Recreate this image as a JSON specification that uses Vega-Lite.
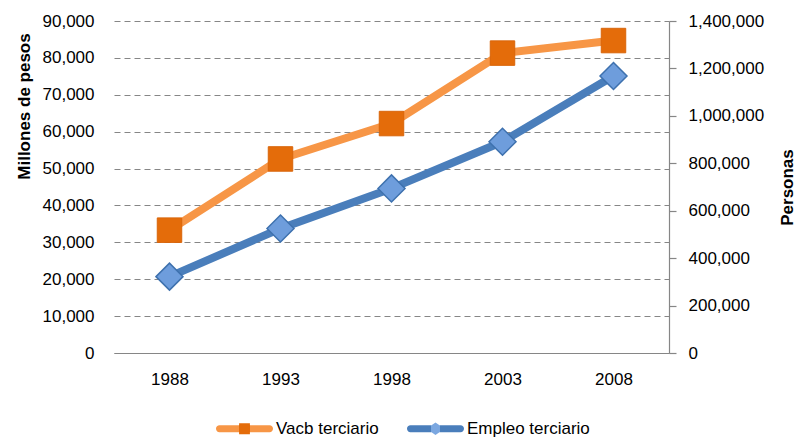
{
  "$schema": "https://vega.github.io/schema/vega-lite/v6.json",
  "width": 555,
  "height": 332,
  "autosize": "none",
  "padding": {"left": 114, "top": 21, "right": 129, "bottom": 86},
  "background": "white",
  "config": {
    "view": {"stroke": null},
    "font": "Liberation Sans, Arial",
    "axis": {"labelFont": "Liberation Sans, Arial", "titleFont": "Liberation Sans, Arial", "labelColor": "#000000", "titleColor": "#000000", "labelFontSize": 17},
    "legend": {"labelFont": "Liberation Sans, Arial", "labelFontSize": 17, "labelColor": "#000000"}
  },
  "data": {
    "values": [
      {"year": "1988", "series": "Vacb terciario", "value": 33300},
      {"year": "1993", "series": "Vacb terciario", "value": 52600},
      {"year": "1998", "series": "Vacb terciario", "value": 62200},
      {"year": "2003", "series": "Vacb terciario", "value": 81300},
      {"year": "2008", "series": "Vacb terciario", "value": 84700},
      {"year": "1988", "series": "Empleo terciario", "value": 322000},
      {"year": "1993", "series": "Empleo terciario", "value": 525000},
      {"year": "1998", "series": "Empleo terciario", "value": 694000},
      {"year": "2003", "series": "Empleo terciario", "value": 891000},
      {"year": "2008", "series": "Empleo terciario", "value": 1168000}
    ]
  },
  "encoding": {
    "x": {
      "field": "year", "type": "ordinal",
      "scale": {"type": "point", "padding": 0.5},
      "axis": {"title": null, "labelAngle": 0, "ticks": false, "tickSize": 0, "labelPadding": 18, "domainColor": "#868686", "domainWidth": 1.2, "grid": false}
    }
  },
  "layer": [
    {
      "transform": [{"filter": "datum.series === 'Vacb terciario'"}],
      "encoding": {
        "y": {
          "field": "value", "type": "quantitative",
          "scale": {"domain": [0, 90000], "nice": false, "zero": true},
          "axis": {
            "title": "Millones de pesos", "titleFontSize": 17, "titleFontWeight": "bold",
            "titleX": -90, "titleY": 85, "titleAngle": -90, "titleAlign": "center", "titleBaseline": "middle",
            "values": [0, 10000, 20000, 30000, 40000, 50000, 60000, 70000, 80000, 90000],
            "format": ",d", "domain": false, "ticks": false, "tickSize": 0, "labelPadding": 20,
            "grid": true, "gridColor": "#868686", "gridDash": [6, 4], "gridWidth": 1.2
          }
        }
      },
      "layer": [
        {
          "mark": {"type": "line", "strokeWidth": 8, "strokeCap": "round", "strokeJoin": "round"},
          "encoding": {
            "color": {
              "field": "series", "type": "nominal",
              "scale": {"domain": ["Vacb terciario", "Empleo terciario"], "range": ["#F79646", "#4A7EBB"]},
              "legend": {
                "title": null, "orient": "none", "direction": "horizontal", "columns": 2,
                "legendX": 102, "legendY": 379,
                "symbolType": "M-1,-0.12H-0.19V-0.19H0.19V-0.12H1V0.12H0.19V0.19H-0.19V0.12H-1Z",
                "symbolSize": 3249, "labelOffset": 3, "columnPadding": 28,
                "encode": {
                  "symbols": {
                    "update": {
                      "shape": {"signal": "datum.value === 'Vacb terciario' ? 'M-0.88,-0.12H-0.19V-0.19H0.19V-0.12H0.88A0.12,0.12 0 0 1 0.88,0.12H0.19V0.19H-0.19V0.12H-0.88A0.12,0.12 0 0 1 -0.88,-0.12Z' : 'M-0.88,-0.12H-0.14L0,-0.22L0.14,-0.12H0.88A0.12,0.12 0 0 1 0.88,0.12H0.14L0,0.22L-0.14,0.12H-0.88A0.12,0.12 0 0 1 -0.88,-0.12Z'"},
                      "fill": {"signal": "datum.value === 'Vacb terciario' ? {gradient: 'linear', stops: [{offset: 0, color: '#F79646'}, {offset: 0.404, color: '#F79646'}, {offset: 0.405, color: '#E46C0A'}, {offset: 0.595, color: '#E46C0A'}, {offset: 0.596, color: '#F79646'}, {offset: 1, color: '#F79646'}]} : {gradient: 'linear', stops: [{offset: 0, color: '#4A7EBB'}, {offset: 0.42, color: '#4A7EBB'}, {offset: 0.43, color: '#7BA7E0'}, {offset: 0.57, color: '#7BA7E0'}, {offset: 0.58, color: '#4A7EBB'}, {offset: 1, color: '#4A7EBB'}]}"},
                      "stroke": {"value": "transparent"},
                      "strokeWidth": {"value": 0},
                      "opacity": {"value": 1}
                    }
                  }
                }
              }
            }
          }
        },
        {
          "mark": {"type": "point", "shape": "square", "size": 600, "filled": true, "fill": "#E46C0A", "stroke": "#D9650A", "strokeWidth": 1, "opacity": 1}
        }
      ]
    },
    {
      "transform": [{"filter": "datum.series === 'Empleo terciario'"}],
      "encoding": {
        "y": {
          "field": "value", "type": "quantitative",
          "scale": {"domain": [0, 1400000], "nice": false, "zero": true},
          "axis": {
            "orient": "right", "title": "Personas", "titleFontSize": 17, "titleFontWeight": "bold",
            "titleX": 118, "titleY": 166, "titleAngle": -90, "titleAlign": "center", "titleBaseline": "middle",
            "values": [0, 200000, 400000, 600000, 800000, 1000000, 1200000, 1400000],
            "format": ",d", "domainColor": "#868686", "domainWidth": 1.2,
            "tickColor": "#868686", "tickSize": 7, "tickWidth": 1.2, "labelPadding": 12, "grid": false
          }
        }
      },
      "layer": [
        {
          "mark": {"type": "line", "strokeWidth": 8, "strokeCap": "round", "strokeJoin": "round", "color": "#4A7EBB"},
          "encoding": {"color": {"field": "series", "type": "nominal", "legend": null}}
        },
        {
          "mark": {"type": "point", "shape": "diamond", "size": 730, "filled": true, "fill": "#6E9DDC", "stroke": "#3E71AE", "strokeWidth": 1.5, "opacity": 1}
        }
      ]
    }
  ],
  "resolve": {"scale": {"y": "independent"}}
}
